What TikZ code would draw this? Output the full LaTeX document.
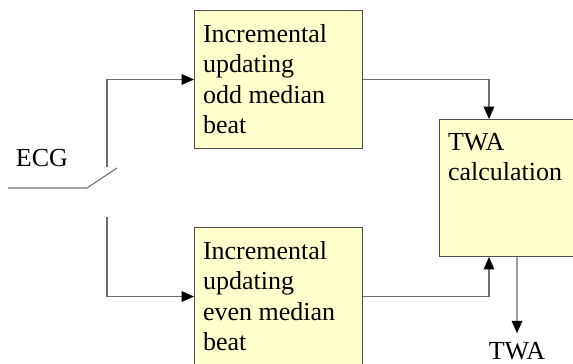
\documentclass[tikz,border=0pt]{standalone}
\usepackage[RGB]{xcolor}
\usepackage{fontspec}
\setmainfont{Liberation Serif}
\usetikzlibrary{arrows.meta}
\definecolor{boxfill}{RGB}{255,255,204}
\definecolor{boxline}{RGB}{80,80,80}
\definecolor{wire}{RGB}{110,110,110}
\newcommand{\boxtext}[3]{\parbox[c][#2][t]{#1}{\raggedright #3}}
\tikzset{
  block/.style={draw=boxline, line width=0.6pt, fill=boxfill, anchor=north west,
    inner xsep=0.17cm, inner ysep=0.28cm,
    font=\fontsize{14.8}{17.2}\selectfont},
  wirestyle/.style={draw=wire, line width=0.6pt},
  arr/.style={wirestyle, -{Triangle[length=7pt,width=6pt,fill=black,color=black]}},
  lbl/.style={font=\fontsize{14.8}{17.2}\selectfont}
}
\begin{document}
\begin{tikzpicture}[x=0.02cm,y=-0.02cm]
\useasboundingbox (0,0) rectangle (573,364);
\clip (0,0) rectangle (573,364);
\fill[white] (0,0) rectangle (573,364);
% blocks
\node[block] (oddbox) at (194,10) {\boxtext{3.02cm}{2.2cm}{Incremental\\updating\\odd median\\beat}};
\node[block] (evenbox) at (194,227) {\boxtext{3.02cm}{2.2cm}{Incremental\\updating\\even median\\beat}};
\node[block] (twabox) at (439,119) {\boxtext{2.8cm}{2.18cm}{TWA\\calculation}};
% switch
\node[lbl] (ecg) at (42,158) {ECG};
\coordinate (in) at (8,188);
\coordinate (pivot) at (87,188);
\coordinate (blade) at (117,168);
\coordinate (upper) at (107,167);
\coordinate (lower) at (107,217);
\draw[wirestyle] (in)--(pivot)--(blade);
\draw[arr] (upper) |- (oddbox.west);
\draw[arr] (lower) |- (evenbox.west);
% to TWA block
\draw[arr] (oddbox.east) -| ([xshift=1cm]twabox.north west);
\draw[arr] (evenbox.east) -| ([xshift=1cm]twabox.south west);
\node[lbl, inner sep=0pt, anchor=north] (twaout) at (517,342) {TWA};
\draw[arr, shorten >=5pt] ([xshift=1.56cm]twabox.south west) -- (twaout.north);
\end{tikzpicture}
\end{document}
